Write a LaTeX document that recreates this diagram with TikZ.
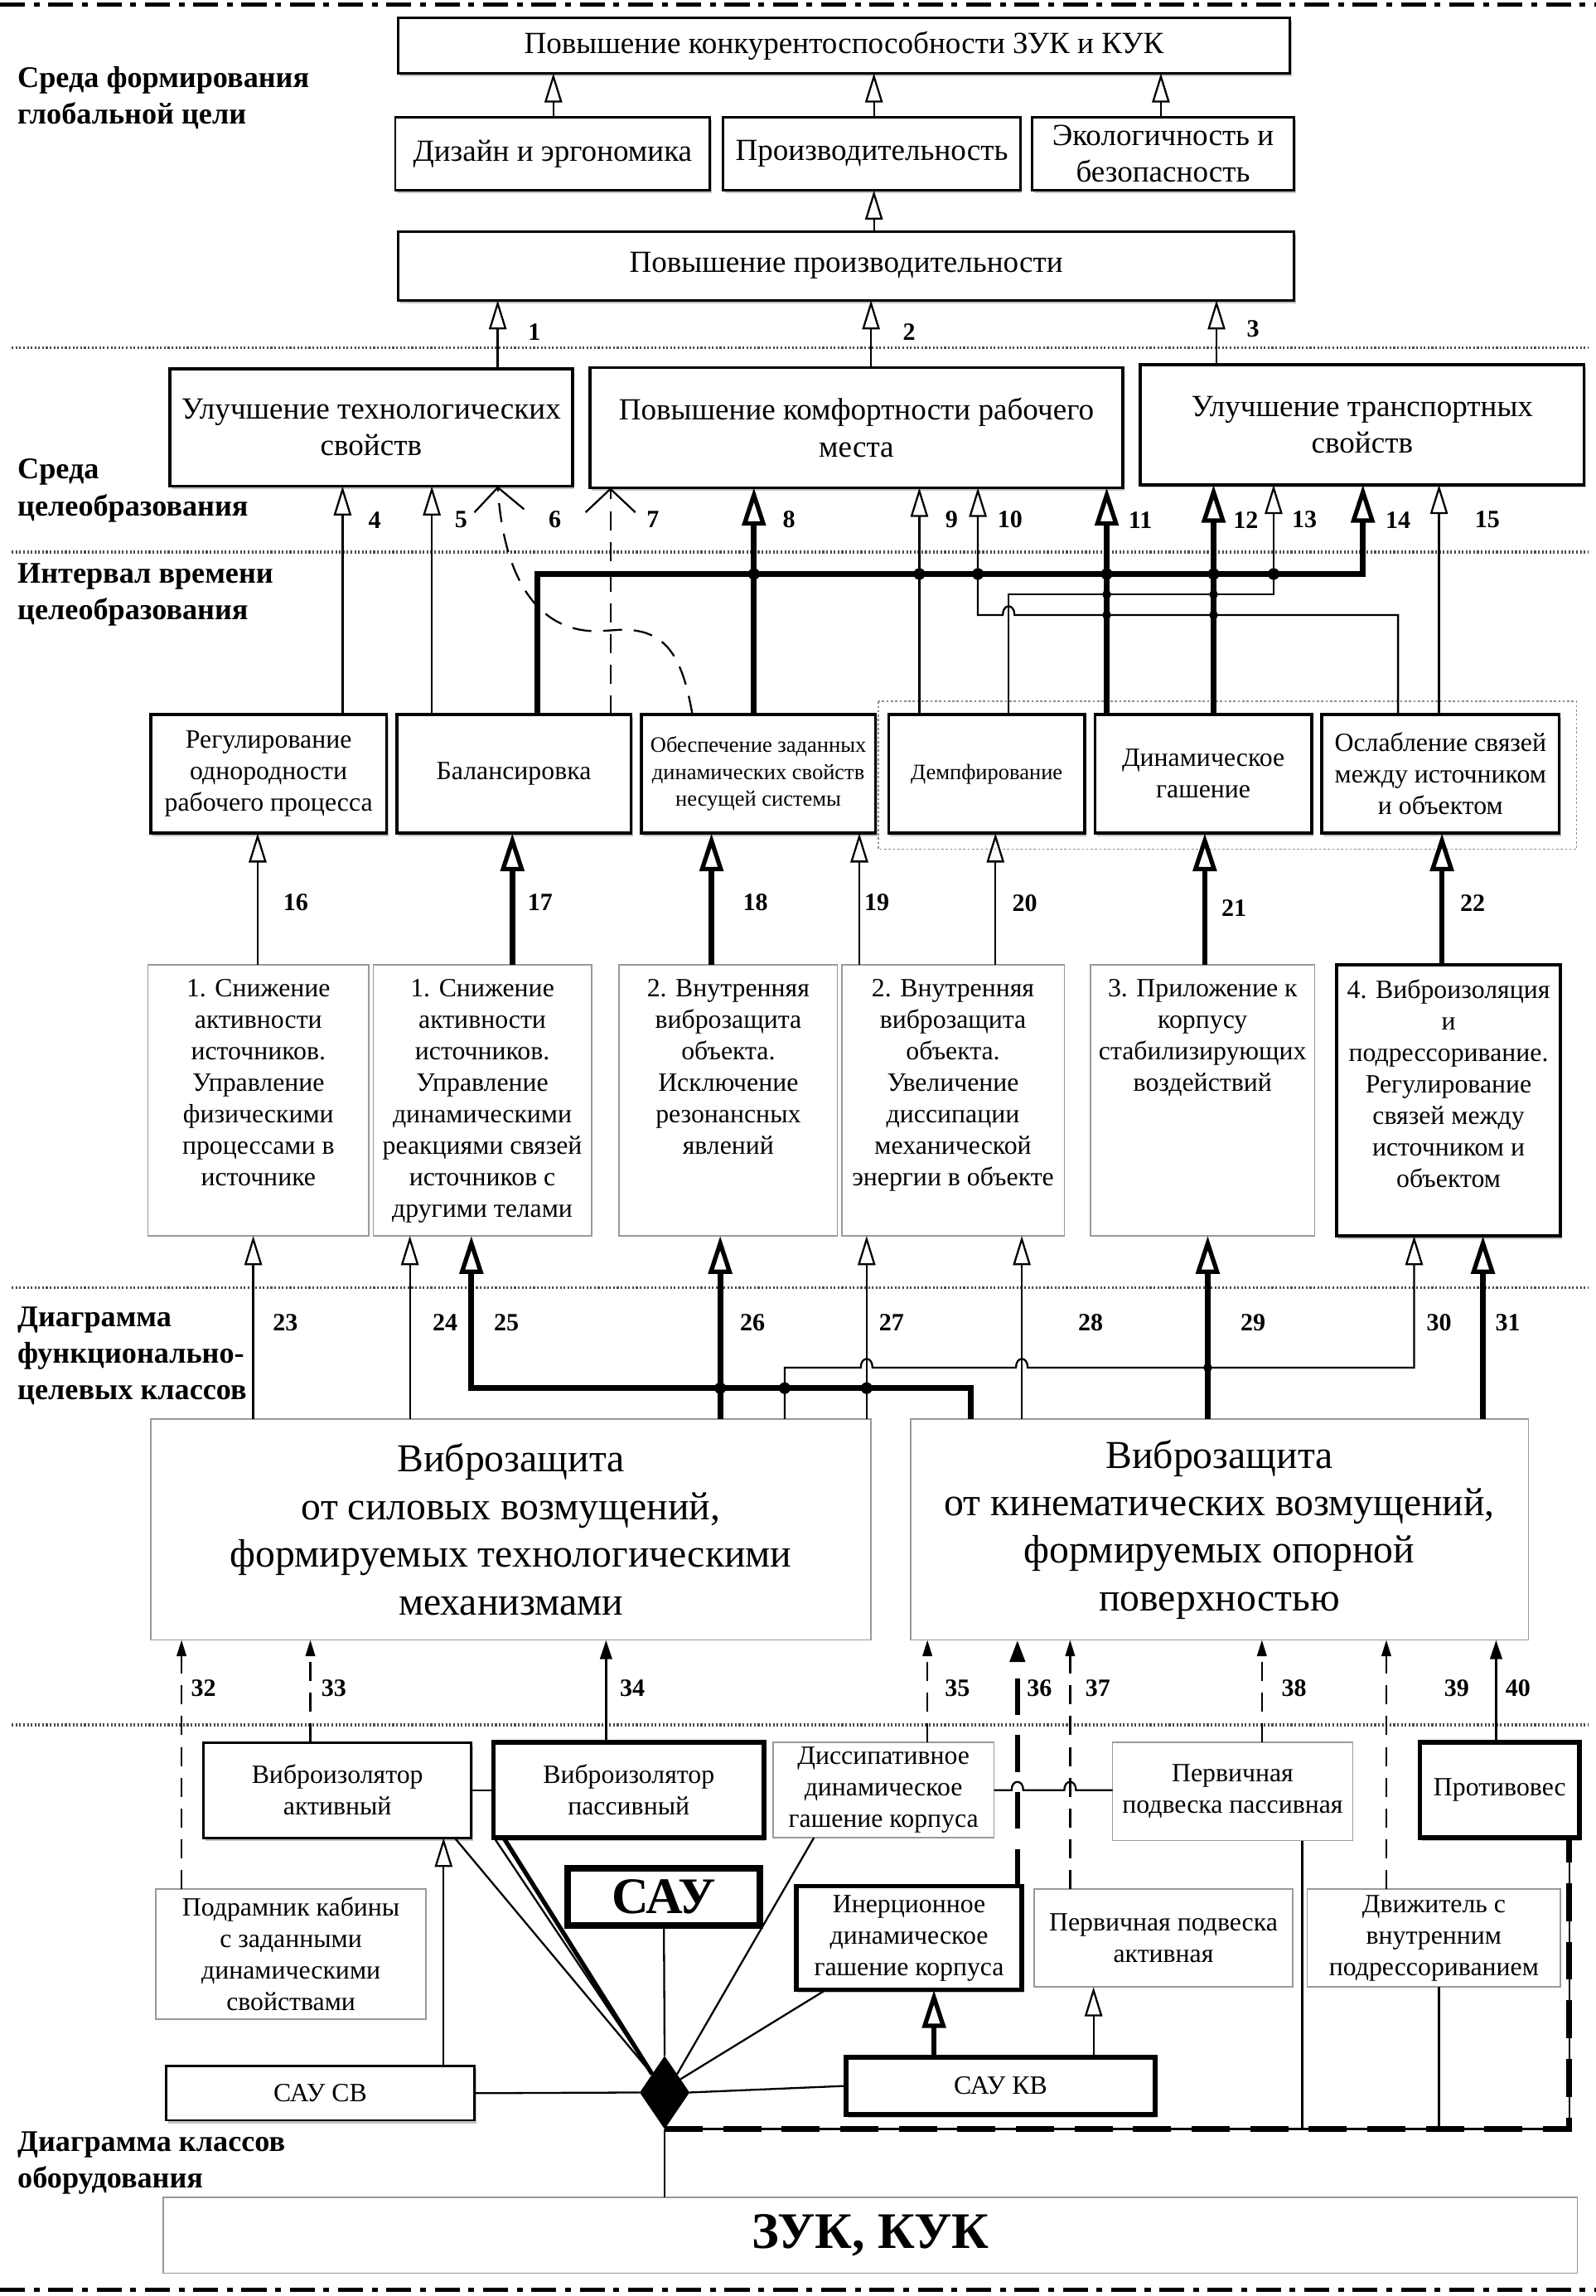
\documentclass[tikz,border=0pt]{standalone}
\usepackage{fontspec}
\setmainfont{Liberation Serif}
\usetikzlibrary{arrows.meta,shapes.geometric,shadows}
\newcommand\szA{\fontsize{21}{25}\selectfont}
\newcommand\szB{\fontsize{18}{21.5}\selectfont}
\newcommand\szC{\fontsize{15}{18.5}\selectfont}
\newcommand\szD{\fontsize{27}{32.5}\selectfont}
\newcommand\szL{\fontsize{20.5}{25}\selectfont\bfseries}
\newcommand\szN{\fontsize{17}{20}\selectfont\bfseries}
\newcommand\szS{\fontsize{35}{40}\selectfont\bfseries}
\begin{document}
\begin{tikzpicture}[x=1pt,y=-1pt,
  every node/.style={outer sep=0pt},
  bx/.style={draw, line width=1.6pt, fill=white, inner sep=1pt, align=center,
    drop shadow={shadow xshift=1.2pt, shadow yshift=-2pt, opacity=0.4, fill=black!60}},
  bxg/.style={draw=black!40, line width=0.9pt, fill=white, inner sep=1pt, align=center},
  txt/.style={inner sep=0pt, align=center},
  th/.style={line width=1.3pt},
  tk/.style={line width=3.8pt},
  hol/.style={-{Triangle[open,length=20pt,width=12pt,line width=1.3pt]}},
  holT/.style={-{Triangle[open,length=26pt,width=16pt,line width=3pt]}},
  barb/.style={-{Straight Barb[length=16pt,width=34pt,line width=1.3pt]}},
  dsh/.style={line width=1.3pt, dash pattern=on 13pt off 8pt},
  sm/.style={-{Triangle[length=11pt,width=6.5pt]}},
  med/.style={line width=1.9pt, -{Triangle[length=13pt,width=8pt]}},
  sepline/.style={line width=2pt, black!70, dash pattern=on 1.2pt off 1.4pt},
  frm/.style={line width=2.8pt, dash pattern=on 17pt off 6pt on 4pt off 6pt},
  lbl/.style={font=\szL, align=left, inner sep=0pt, anchor=west},
  num/.style={font=\szN, inner sep=0pt}]
\useasboundingbox (0,0) rectangle (1090,1568);

% frame and separators
\draw[frm] (0,3) -- (1090,3);
\draw[frm] (0,1564) -- (1090,1564);
\draw[sepline] (8,237.5) -- (1085,237.5);
\draw[sepline] (8,377) -- (1085,377);
\draw[sepline] (8,879.5) -- (1085,879.5);
\draw[sepline] (8,1178) -- (1085,1178);

% left labels
\node[lbl] (L1) at (12,67) {Среда формирования\\глобальной цели};
\node[lbl] (L2) at (12,335) {Среда\\целеобразования};
\node[lbl] (L3) at (12,406) {Интервал времени\\целеобразования};
\node[lbl] (L4) at (12,926) {Диаграмма\\функционально-\\целевых классов};
\node[lbl] (L5) at (12,1477) {Диаграмма классов\\оборудования};

% level 1
\node[bx, minimum width=609pt, minimum height=38pt, font=\szA] (B1) at (576.5,31) {Повышение конкурентоспособности ЗУК и КУК};
\node[bx, minimum width=215pt, minimum height=50pt, font=\szA] (B2) at (377.5,105) {Дизайн и эргономика};
\node[bx, minimum width=203pt, minimum height=50pt, font=\szA] (B3) at (595.5,105) {Производительность};
\node[bx, minimum width=179pt, minimum height=50pt, font=\szA] (B4) at (794.5,105) {Экологичность и\\безопасность};
\node[bx, minimum width=612pt, minimum height=47pt, font=\szA] (B5) at (578,181.5) {Повышение производительности};

% level 2
\node[bx, line width=2pt, minimum width=275pt, minimum height=80pt, font=\szA] (C1) at (253.5,292) {Улучшение технологических\\свойств};
\node[bx, line width=2pt, minimum width=364pt, minimum height=82pt, font=\szA] (C2) at (585,292) {Повышение комфортности рабочего\\места};
\node[bx, line width=2pt, minimum width=303pt, minimum height=82pt, font=\szA] (C3) at (930.5,290) {Улучшение транспортных\\свойств};

% level 3
\draw[black!45, line width=0.8pt, dash pattern=on 1.5pt off 1.5pt] (600,479) rectangle (1077,580);
\node[bx, line width=2pt, minimum width=161pt, minimum height=81pt, font=\szB] (D1) at (183.5,528.5) {Регулирование\\однородности\\рабочего процесса};
\node[bx, line width=2pt, minimum width=160pt, minimum height=81pt, font=\szB] (D2) at (351,528.5) {Балансировка};
\node[bx, line width=2pt, minimum width=160pt, minimum height=81pt, font=\szC] (D3) at (518,528.5) {Обеспечение заданных\\динамических свойств\\несущей системы};
\node[bx, line width=2pt, minimum width=134pt, minimum height=81pt, font=\szC] (D4) at (674,528.5) {Демпфирование};
\node[bx, line width=2pt, minimum width=148pt, minimum height=81pt, font=\szB] (D5) at (822,528.5) {Динамическое\\гашение};
\node[bx, line width=2pt, minimum width=162pt, minimum height=81pt, font=\szB] (D6) at (984,528.5) {Ослабление связей\\между источником\\и объектом};

% level 4
\node[bxg, minimum width=151pt, minimum height=185pt] (E1) at (176.5,751.5) {};
\node[bxg, minimum width=149pt, minimum height=185pt] (E2) at (329.5,751.5) {};
\node[bxg, minimum width=149pt, minimum height=185pt] (E3) at (497.5,751.5) {};
\node[bxg, minimum width=152pt, minimum height=185pt] (E4) at (651,751.5) {};
\node[bxg, minimum width=153pt, minimum height=185pt] (E5) at (821.5,751.5) {};
\node[bx, line width=2.4pt, minimum width=153pt, minimum height=185pt] (E6) at (989.5,751.5) {};
\node[txt, font=\szB, anchor=north] (E1t) at ([yshift=-10pt]E1.north) {1. Снижение\\активности\\источников.\\Управление\\физическими\\процессами в\\источнике};
\node[txt, font=\szB, anchor=north] (E2t) at ([yshift=-10pt]E2.north) {1. Снижение\\активности\\источников.\\Управление\\динамическими\\реакциями связей\\источников с\\другими телами};
\node[txt, font=\szB, anchor=north] (E3t) at ([yshift=-10pt]E3.north) {2. Внутренняя\\виброзащита\\объекта.\\Исключение\\резонансных\\явлений};
\node[txt, font=\szB, anchor=north] (E4t) at ([yshift=-10pt]E4.north) {2. Внутренняя\\виброзащита\\объекта.\\Увеличение\\диссипации\\механической\\энергии в объекте};
\node[txt, font=\szB, anchor=north] (E5t) at ([yshift=-10pt]E5.north) {3. Приложение к\\корпусу\\стабилизирующих\\воздействий};
\node[txt, font=\szB, anchor=north] (E6t) at ([yshift=-10pt]E6.north) {4. Виброизоляция\\и\\подрессоривание.\\Регулирование\\связей между\\источником и\\объектом};

% level 5
\node[bxg, minimum width=492pt, minimum height=151pt, font=\szD] (F1) at (349,1044.5) {Виброзащита\\от силовых возмущений,\\формируемых технологическими\\механизмами};
\node[bxg, minimum width=422pt, minimum height=151pt, font=\szD] (F2) at (833,1044.5) {Виброзащита\\от кинематических возмущений,\\формируемых опорной\\поверхностью};

% level 6
\node[bx, minimum width=183pt, minimum height=65pt, font=\szB] (G1) at (230.5,1222.5) {Виброизолятор\\активный};
\node[bx, line width=3.2pt, minimum width=185pt, minimum height=65pt, font=\szB] (G2) at (429.5,1222.5) {Виброизолятор\\пассивный};
\node[bxg, minimum width=151pt, minimum height=65pt, font=\szB] (G3) at (603.5,1222.5) {Диссипативное\\динамическое\\гашение корпуса};
\node[bxg, minimum width=164pt, minimum height=67pt, font=\szB] (G4) at (842,1223.5) {Первичная\\подвеска пассивная};
\node[bx, line width=3.2pt, minimum width=109pt, minimum height=65pt, font=\szB] (G5) at (1024.5,1222.5) {Противовес};

% level 7
\node[bxg, minimum width=184.5pt, minimum height=89pt, font=\szB] (H1) at (198.75,1334.5) {Подрамник кабины\\с заданными\\динамическими\\свойствами};
\node[bx, line width=4.5pt, minimum width=131pt, minimum height=39pt, font=\szS] (SAU) at (453.5,1295.5) {САУ};
\node[bx, line width=3pt, minimum width=154pt, minimum height=71pt, font=\szB] (H2) at (621,1323.5) {Инерционное\\динамическое\\гашение корпуса};
\node[bxg, minimum width=176.5pt, minimum height=67pt, font=\szB] (H3) at (794.75,1323.5) {Первичная подвеска\\активная};
\node[bxg, minimum width=173pt, minimum height=67pt, font=\szB] (H4) at (979.5,1323.5) {Движитель с\\внутренним\\подрессориванием};

% level 8
\node[bx, minimum width=210.5pt, minimum height=37pt, font=\szB] (I1) at (218.75,1429.5) {САУ СВ};
\node[bx, line width=3.2pt, minimum width=211pt, minimum height=39pt, font=\szB] (I2) at (683.5,1424.5) {САУ КВ};
\node[diamond, fill=black, minimum width=34pt, minimum height=50pt, inner sep=0pt] (dia) at (454,1429) {};
\node[bxg, minimum width=966pt, minimum height=52pt, font=\szS] (ZUK) at (594.5,1526.5) {ЗУК, КУК};

% ---- connectors level 1
\draw[th,hol] (B2.north -| 378,0) -- (B1.south -| 378,0);
\draw[th,hol] (B3.north -| 597,0) -- (B1.south -| 597,0);
\draw[th,hol] (B4.north -| 793,0) -- (B1.south -| 793,0);
\draw[th,hol] (B5.north -| 597,0) -- (B3.south -| 597,0);
\draw[th,hol] (C1.north -| 340,0) -- (B5.south -| 340,0);
\draw[th,hol] (C2.north -| 595,0) -- (B5.south -| 595,0);
\draw[th,hol] (C3.north -| 831,0) -- (B5.south -| 831,0);
\node[num] (n1) at (365,226.5) {1};
\node[num] (n2) at (621,226.5) {2};
\node[num] (n3) at (856,224.5) {3};

% ---- connectors level 3 -> 2
\draw[th,hol] (D1.north -| 234,0) -- (C1.south -| 234,0);
\draw[th,hol] (D2.north -| 295,0) -- (C1.south -| 295,0);
\draw[dsh,barb] (D3.north -| 473,0) .. controls (466,448) and (455,430) .. (425,430) -- (409,431) .. controls (368,432) and (344,396) .. (C1.south -| 340,0);
\draw[dsh,barb] (D2.north -| 417,0) -- (C2.south -| 417,0);
\draw[tk,holT] (D3.north -| 515,0) -- (C2.south -| 515,0);
\draw[th,hol] (D4.north -| 628,0) -- (C2.south -| 628,0);
\draw[th,hol] (D6.north -| 955,0) -- (955,420) -- (693,420) .. controls (693,412) and (685,412) .. (685,420) -- (668,420) -- (C2.south -| 668,0);
\draw[tk,holT] (D5.north -| 756,0) -- (C2.south -| 756,0);
\draw[tk,holT] (D5.north -| 829,0) -- (C3.south -| 829,0);
\draw[th,hol] (D4.north -| 689,0) -- (689,406) -- (870,406) -- (C3.south -| 870,0);
\draw[tk,holT,line join=miter] (D2.north -| 367,0) -- (367,392) -- (931,392) -- (C3.south -| 931,0);
\draw[th,hol] (D6.north -| 983,0) -- (C3.south -| 983,0);
\foreach \x in {515,628,668,756,829,870} \fill (\x,392) circle (4pt);
\foreach \x in {756,829} {\fill (\x,406) circle (3pt); \fill (\x,420) circle (3pt);}
\node[num] (n4) at (256,355) {4};
\node[num] (n5) at (315,355) {5};
\node[num] (n6) at (379,355) {6};
\node[num] (n7) at (446,355) {7};
\node[num] (n8) at (539,355) {8};
\node[num] (n9) at (650,355) {9};
\node[num] (n10) at (690,355) {10};
\node[num] (n11) at (779,355) {11};
\node[num] (n12) at (851,355) {12};
\node[num] (n13) at (891,355) {13};
\node[num] (n14) at (955,355) {14};
\node[num] (n15) at (1016,355) {15};

% ---- connectors level 4 -> 3
\draw[th,hol] (E1.north -| 176,0) -- (D1.south -| 176,0);
\draw[tk,holT] (E2.north -| 350,0) -- (D2.south -| 350,0);
\draw[tk,holT] (E3.north -| 486,0) -- (D3.south -| 486,0);
\draw[th,hol] (E4.north -| 587,0) -- (D3.south -| 587,0);
\draw[th,hol] (E4.north -| 680,0) -- (D4.south -| 680,0);
\draw[tk,holT] (E5.north -| 823,0) -- (D5.south -| 823,0);
\draw[tk,holT] (E6.north -| 985,0) -- (D6.south -| 985,0);
\node[num] (n16) at (202,616) {16};
\node[num] (n17) at (369,616) {17};
\node[num] (n18) at (516,616) {18};
\node[num] (n19) at (599,616) {19};
\node[num] (n20) at (700,617) {20};
\node[num] (n21) at (843,620) {21};
\node[num] (n22) at (1006,617) {22};

% ---- connectors level 5 -> 4
\draw[th,hol] (F1.north -| 173,0) -- (E1.south -| 173,0);
\draw[th,hol] (F1.north -| 280,0) -- (E2.south -| 280,0);
\draw[tk,holT,line join=miter] (F2.north -| 663,0) -- (663,948) -- (322,948) -- (E2.south -| 322,0);
\draw[tk,holT] (F1.north -| 492,0) -- (E3.south -| 492,0);
\draw[th,hol] (F1.north -| 592,0) -- (E4.south -| 592,0);
\draw[th,hol] (F2.north -| 698,0) -- (E4.south -| 698,0);
\draw[tk,holT] (F2.north -| 825,0) -- (E5.south -| 825,0);
\draw[th,hol] (F1.north -| 536,0) -- (536,934) -- (588,934) .. controls (588,926) and (596,926) .. (596,934) -- (694,934) .. controls (694,926) and (702,926) .. (702,934) -- (966,934) -- (E6.south -| 966,0);
\draw[tk,holT] (F2.north -| 1013,0) -- (E6.south -| 1013,0);
\foreach \x in {492,536,592} \fill (\x,948) circle (4pt);
\fill (825,934) circle (3pt);
\node[num] (n23) at (195,903) {23};
\node[num] (n24) at (304,903) {24};
\node[num] (n25) at (346,903) {25};
\node[num] (n26) at (514,903) {26};
\node[num] (n27) at (609,903) {27};
\node[num] (n28) at (745,903) {28};
\node[num] (n29) at (856,903) {29};
\node[num] (n30) at (983,903) {30};
\node[num] (n31) at (1030,903) {31};

% ---- connectors level 6/7 -> 5
\draw[dsh,sm] (H1.north -| 124,0) -- (F1.south -| 124,0);
\draw[dsh,sm] (G1.north -| 212,0) -- (F1.south -| 212,0);
\draw[med] (G2.north -| 414,0) -- (F1.south -| 414,0);
\draw[dsh,sm] (G3.north -| 633.5,0) -- (F2.south -| 633.5,0);
\draw[line width=3.2pt, dash pattern=on 25pt off 14pt, -{Triangle[length=15pt,width=10pt]}] (H2.north -| 695,0) -- (F2.south -| 695,0);
\draw[dsh,sm] (H3.north -| 731,0) -- (F2.south -| 731,0);
\draw[dsh,sm] (G4.north -| 862,0) -- (F2.south -| 862,0);
\draw[dsh,sm] (H4.north -| 947,0) -- (F2.south -| 947,0);
\draw[med] (G5.north -| 1022,0) -- (F2.south -| 1022,0);
\node[num] (n32) at (139,1153) {32};
\node[num] (n33) at (228,1153) {33};
\node[num] (n34) at (432,1153) {34};
\node[num] (n35) at (654,1153) {35};
\node[num] (n36) at (710,1153) {36};
\node[num] (n37) at (750,1153) {37};
\node[num] (n38) at (884,1153) {38};
\node[num] (n39) at (995,1153) {39};
\node[num] (n40) at (1037,1153) {40};

% ---- equipment level links
\draw[th] (G1.east) -- (G2.west);
\draw[th] (G3.east) -- (691,1222.5) .. controls (691,1215) and (699,1215) .. (699,1222.5) -- (727,1222.5) .. controls (727,1215) and (735,1215) .. (735,1222.5) -- (G4.west |- G3.east);
\draw[th] (G1.south -| 310.5,0) -- (dia.north west);
\draw[th] (G2.south -| 337.5,0) -- (dia.north west);
\draw[line width=3pt] (G2.south -| 344,0) -- (dia.north west);
\draw[th] (G3.south -| 556,0) -- (dia.north east);
\draw[th] (SAU.south) -- (dia.north);
\draw[th] (H2.south -| 564,0) -- (dia.40);
\draw[th] (I1.east) -- (dia.west);
\draw[th] (dia.east) -- (I2.west);
\draw[th] (dia.south) -- (ZUK.north -| dia.south);
\draw[th,hol] (I1.north -| 303,0) -- (G1.south -| 303,0);
\draw[line width=3pt,holT] (I2.north -| 638,0) -- (H2.south -| 638,0);
\draw[th,hol] (I2.north -| 747,0) -- (H3.south -| 747,0);
\draw[th] (dia.south) -- (1072,1454) -- (G5.south -| 1072,0);
\draw[line width=4pt, dash pattern=on 26pt off 14pt] (dia.south) -- (1072,1454) -- (G5.south -| 1072,0);
\draw[th] (G4.south -| 889.6,0) -- (889.6,1454);
\draw[th] (H4.south -| 983,0) -- (983,1454);
\end{tikzpicture}
\end{document}
